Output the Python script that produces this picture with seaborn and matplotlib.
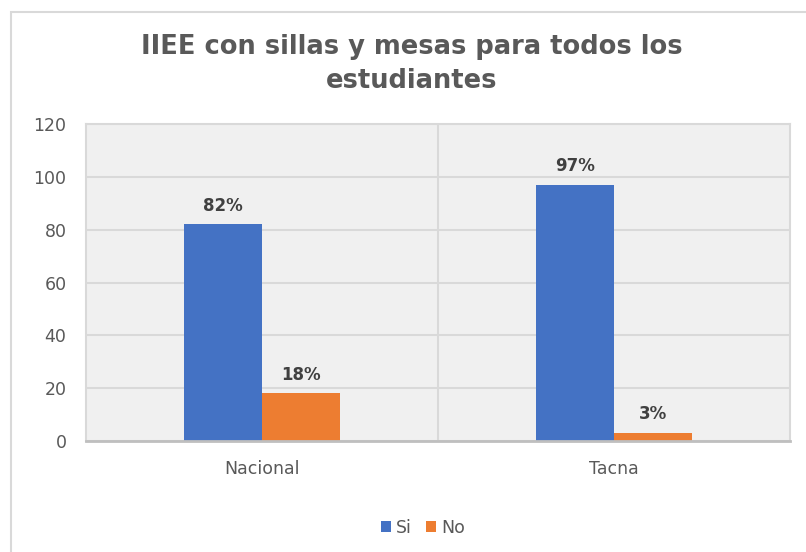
import matplotlib
matplotlib.use("Agg")
import matplotlib.pyplot as plt
from matplotlib.patches import Rectangle
import seaborn as sns
import pandas as pd

# chart data
regions = ["Nacional", "Tacna"]
answers = ["Si", "No"]
si_values = [82, 97]
no_values = [18, 3]
yticks = [0, 20, 40, 60, 80, 100, 120]
title = "IIEE con sillas y mesas para todos los\nestudiantes"

df = pd.DataFrame({
    "region": regions * 2,
    "answer": [answers[0]] * 2 + [answers[1]] * 2,
    "value": si_values + no_values,
})

sns.set_theme(style="white")
plt.rcParams["font.family"] = ["DejaVu Sans"]

W, H = 806, 552
fig = plt.figure(figsize=(W / 100, H / 100), dpi=100)
fig.patch.set_facecolor("white")

# outer chart frame (runs off the right/bottom edge like the screenshot)
fig.patches.append(Rectangle((11 / W, -0.1), 1.0, 1 - 12 / H + 0.1,
                             transform=fig.transFigure, fill=False,
                             edgecolor="#D9D9D9", linewidth=1.5))

ax = fig.add_axes([86 / W, 1 - 441 / H, (790 - 86) / W, (441 - 124) / H])
ax.set_facecolor("#F0F0F0")

sns.barplot(data=df, x="region", y="value", hue="answer",
            palette=["#4472C4", "#ED7D31"], width=0.443, gap=0,
            saturation=1, errorbar=None, linewidth=0, ax=ax, legend=True)

for cont, vals in zip(ax.containers, [si_values, no_values]):
    ax.bar_label(cont, labels=[f"{v}%" for v in vals], padding=7,
                 fontsize=12, fontweight="bold", color="#404040")

ax.set_ylim(0, 120)
ax.set_xlim(-0.5, 1.5)
ax.set_yticks(yticks)
ax.yaxis.grid(True, color="#D9D9D9", linewidth=1.5)
ax.axvline(0.5, color="#D9D9D9", linewidth=1.5, zorder=0)
ax.set_axisbelow(True)
ax.set_xlabel("")
ax.set_ylabel("")
ax.tick_params(axis="y", length=0, pad=14, labelsize=12.5, labelcolor="#595959")
ax.tick_params(axis="x", length=0, pad=14, labelsize=12.5, labelcolor="#595959")

for side in ["left", "top", "right"]:
    ax.spines[side].set_color("#D9D9D9")
    ax.spines[side].set_linewidth(1.5)
ax.spines["bottom"].set_color("#BFBFBF")
ax.spines["bottom"].set_linewidth(2)

handles, labels = ax.get_legend_handles_labels()
ax.get_legend().remove()
fig.legend(handles, labels, loc="center", bbox_to_anchor=(423 / W, 1 - 528 / H),
           ncol=2, frameon=False, handlelength=0.6, handleheight=0.6,
           handletextpad=0.3, columnspacing=0.8,
           prop={"size": 12.5}, labelcolor="#595959")

fig.text(412 / W, 1 - 64 / H, title, ha="center", va="center",
         fontsize=18.5, fontweight="bold", color="#595959", linespacing=1.4)

fig.savefig("out.png", dpi=100)
